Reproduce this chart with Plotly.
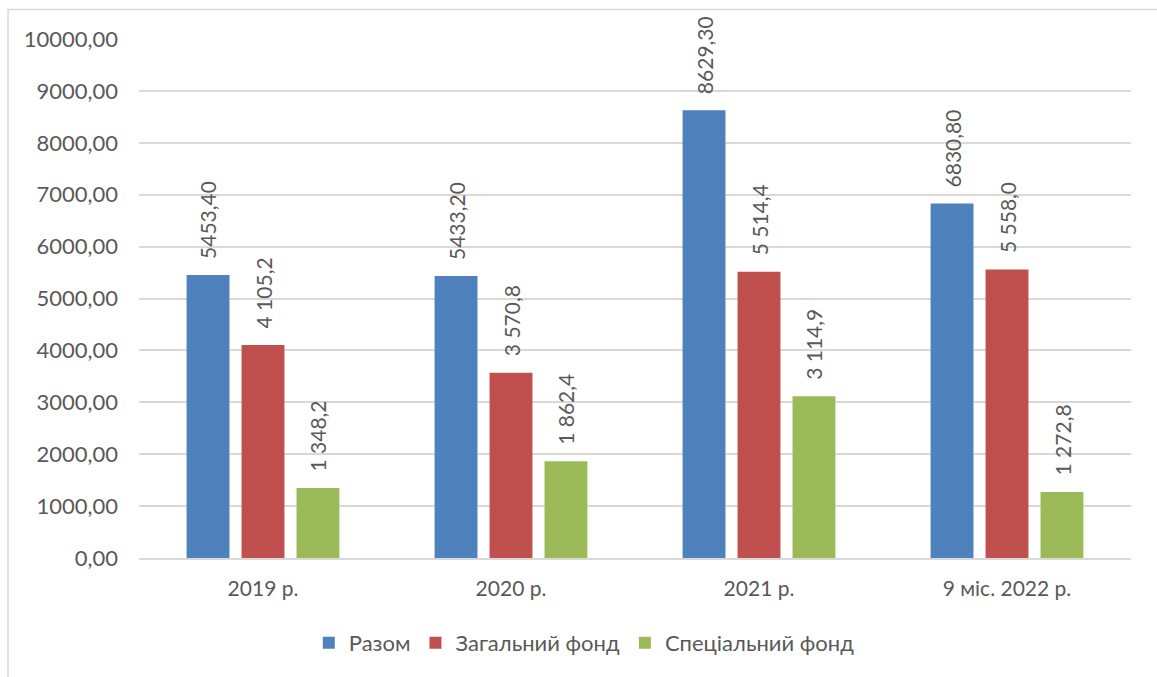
import plotly.graph_objects as go

# Budget figures by period (thousand UAH)
periods = ["2019 р.", "2020 р.", "2021 р.", "9 міс. 2022 р."]
total = [5453.40, 5433.20, 8629.30, 6830.80]
general_fund = [4105.2, 3570.8, 5514.4, 5558.0]
special_fund = [1348.2, 1862.4, 3114.9, 1272.8]

series_names = ["Разом", "Загальний фонд", "Спеціальний фонд"]
colors = ["#4F81BD", "#C0504D", "#9BBB59"]
y_ticks = [0, 1000, 2000, 3000, 4000, 5000, 6000, 7000, 8000, 9000, 10000]

FONT = "Lato, 'Liberation Sans', Arial, sans-serif"
TEXT_COLOR = "#595959"


def fmt_total(v):
    return f"{v:.2f}".replace(".", ",")


def fmt_fund(v):
    return f"{v:,.1f}".replace(",", " ").replace(".", ",")


series = [total, general_fund, special_fund]
formatters = [fmt_total, fmt_fund, fmt_fund]
# horizontal offset (px) of each bar inside its category group
group_shift = [-55, 0, 55]

fig = go.Figure()
for name, vals, color in zip(series_names, series, colors):
    fig.add_trace(
        go.Bar(
            name=name,
            x=periods,
            y=vals,
            marker=dict(color=color, line=dict(width=0)),
            cliponaxis=False,
        )
    )

# Vertical value labels above each bar
for vals, fmt, dx in zip(series, formatters, group_shift):
    for cat, v in zip(periods, vals):
        fig.add_annotation(
            x=cat, y=v, xref="x", yref="y",
            text=fmt(v),
            textangle=-90,
            showarrow=False,
            xanchor="center", yanchor="bottom",
            xshift=dx, yshift=14,
            font=dict(family=FONT, size=21, color=TEXT_COLOR),
        )

# Outer chart-area frame (left and top edges visible)
fig.add_shape(
    type="rect",
    xref="paper", yref="paper",
    x0=(8 - 139) / 992, x1=(1165 - 139) / 992,
    y0=(558 - 690) / 519.5, y1=(558 - 9) / 519.5,
    line=dict(color="#D9D9D9", width=1.5),
    fillcolor="rgba(0,0,0,0)",
    layer="below",
)

fig.update_layout(
    width=1157,
    height=677,
    margin=dict(l=139, r=26, t=38.5, b=119),
    paper_bgcolor="white",
    plot_bgcolor="white",
    barmode="group",
    bargap=0.335,
    bargroupgap=0.22,
    font=dict(family=FONT, size=21, color=TEXT_COLOR),
    showlegend=True,
    legend=dict(
        orientation="h",
        xref="container", yref="container",
        x=0.505, xanchor="center",
        y=1 - 643 / 677, yanchor="middle",
        font=dict(family=FONT, size=22, color=TEXT_COLOR),
        itemwidth=30,
        traceorder="normal",
    ),
    xaxis=dict(
        showgrid=False,
        showline=True,
        linecolor="#D9D9D9",
        linewidth=1.5,
        ticks="",
        ticklabelstandoff=11,
        tickfont=dict(family=FONT, size=21, color=TEXT_COLOR),
    ),
    yaxis=dict(
        range=[0, 10000],
        tickvals=y_ticks,
        ticktext=[f"{v:.2f}".replace(".", ",") for v in y_ticks],
        showgrid=True,
        gridcolor="#D9D9D9",
        gridwidth=1.5,
        zeroline=False,
        showline=False,
        ticks="",
        ticklabelstandoff=20,
        tickfont=dict(family=FONT, size=22, color=TEXT_COLOR),
    ),
)

fig.write_html("out.html")
